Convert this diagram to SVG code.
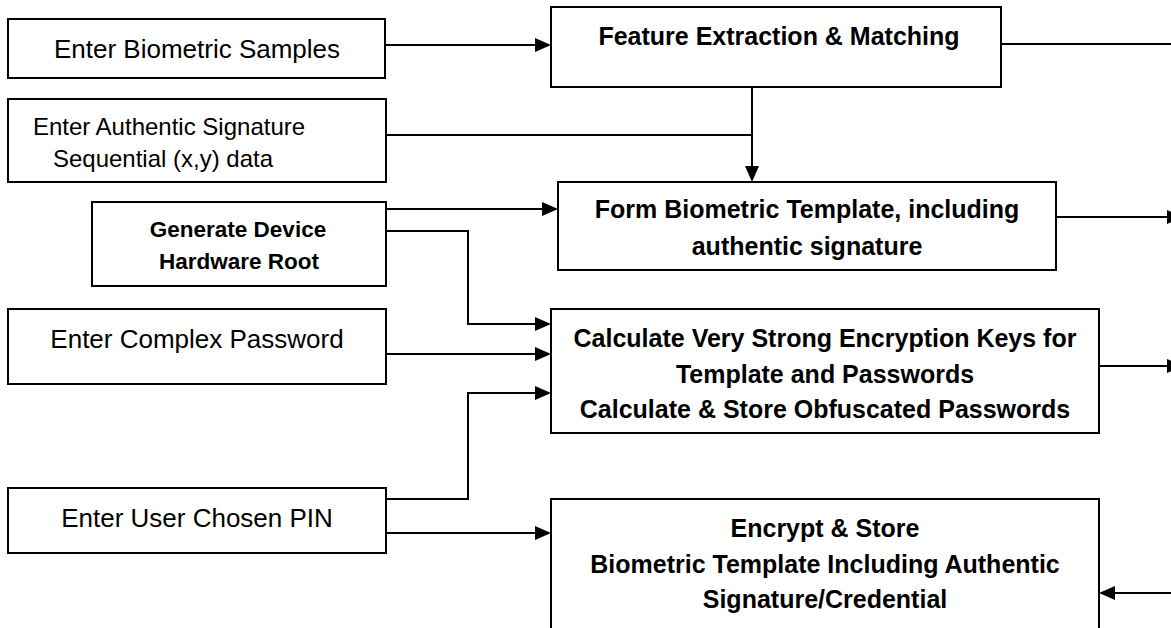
<svg xmlns="http://www.w3.org/2000/svg" width="1171" height="628" viewBox="0 0 1171 628">
  <style>
    .box { fill: #ffffff; stroke: #000000; stroke-width: 2; }
    .wire { fill: none; stroke: #000000; stroke-width: 2; }
    .reg { font-family: "Liberation Sans", Arial, sans-serif; font-size: 26px; fill: #000000; }
    .reg-s { font-family: "Liberation Sans", Arial, sans-serif; font-size: 24px; fill: #000000; }
    .bold { font-family: "Liberation Sans", Arial, sans-serif; font-size: 25px; font-weight: bold; fill: #000000; text-anchor: middle; }
    .bold-s { font-family: "Liberation Sans", Arial, sans-serif; font-size: 22.5px; font-weight: bold; fill: #000000; text-anchor: middle; }
    .mid { text-anchor: middle; }
  </style>
  <defs>
    <marker id="arrow" viewBox="0 0 16 14" refX="14" refY="7" markerWidth="16" markerHeight="14" markerUnits="userSpaceOnUse" orient="auto">
      <path d="M0,0 L16,7 L0,14 Z" fill="#000000"/>
    </marker>
  </defs>

  <rect width="1171" height="628" fill="#ffffff"/>

  <!-- connectors -->
  <g id="connectors">
    <path class="wire" d="M386,45 H549" marker-end="url(#arrow)"/>
    <path class="wire" d="M1001,44 H1172"/>
    <path class="wire" d="M752,87 V180" marker-end="url(#arrow)"/>
    <path class="wire" d="M386,135 H752"/>
    <path class="wire" d="M386,209 H556" marker-end="url(#arrow)"/>
    <path class="wire" d="M386,231 H468 V324 H549" marker-end="url(#arrow)"/>
    <path class="wire" d="M386,354 H549" marker-end="url(#arrow)"/>
    <path class="wire" d="M386,499 H468 V393 H549" marker-end="url(#arrow)"/>
    <path class="wire" d="M386,533 H549" marker-end="url(#arrow)"/>
    <path class="wire" d="M1056,217 H1181" marker-end="url(#arrow)"/>
    <path class="wire" d="M1099,366 H1181" marker-end="url(#arrow)"/>
    <path class="wire" d="M1175,593 H1101" marker-end="url(#arrow)"/>
  </g>

  <!-- input boxes -->
  <g id="enter-biometric-samples">
    <rect class="box" x="8" y="19" width="377" height="59"/>
    <text class="reg mid" x="197" y="58">Enter Biometric Samples</text>
  </g>

  <g id="enter-authentic-signature">
    <rect class="box" x="8" y="99" width="378" height="83"/>
    <text class="reg-s mid" x="169" y="135">Enter Authentic Signature</text>
    <text class="reg-s mid" x="163" y="167">Sequential (x,y) data</text>
  </g>

  <g id="generate-device-root">
    <rect class="box" x="92" y="202" width="294" height="84"/>
    <text class="bold-s" x="238" y="237">Generate Device</text>
    <text class="bold-s" x="239" y="269">Hardware Root</text>
  </g>

  <g id="enter-complex-password">
    <rect class="box" x="8" y="309" width="378" height="75"/>
    <text class="reg mid" x="197" y="348">Enter Complex Password</text>
  </g>

  <g id="enter-user-pin">
    <rect class="box" x="8" y="488" width="378" height="65"/>
    <text class="reg mid" x="197" y="527">Enter User Chosen PIN</text>
  </g>

  <!-- processing boxes -->
  <g id="feature-extraction">
    <rect class="box" x="551" y="7" width="450" height="80"/>
    <text class="bold" x="779" y="45">Feature Extraction &amp; Matching</text>
  </g>

  <g id="form-template">
    <rect class="box" x="558" y="182" width="498" height="88"/>
    <text class="bold" x="807" y="218">Form Biometric Template, including</text>
    <text class="bold" x="807" y="255">authentic signature</text>
  </g>

  <g id="calculate-keys">
    <rect class="box" x="551" y="309" width="548" height="124"/>
    <text class="bold" x="825" y="347">Calculate Very Strong Encryption Keys for</text>
    <text class="bold" x="825" y="383">Template and Passwords</text>
    <text class="bold" x="825" y="418">Calculate &amp; Store Obfuscated Passwords</text>
  </g>

  <g id="encrypt-store">
    <rect class="box" x="551" y="499" width="548" height="140"/>
    <text class="bold" x="825" y="537">Encrypt &amp; Store</text>
    <text class="bold" x="825" y="573">Biometric Template Including Authentic</text>
    <text class="bold" x="825" y="608">Signature/Credential</text>
  </g>
</svg>
